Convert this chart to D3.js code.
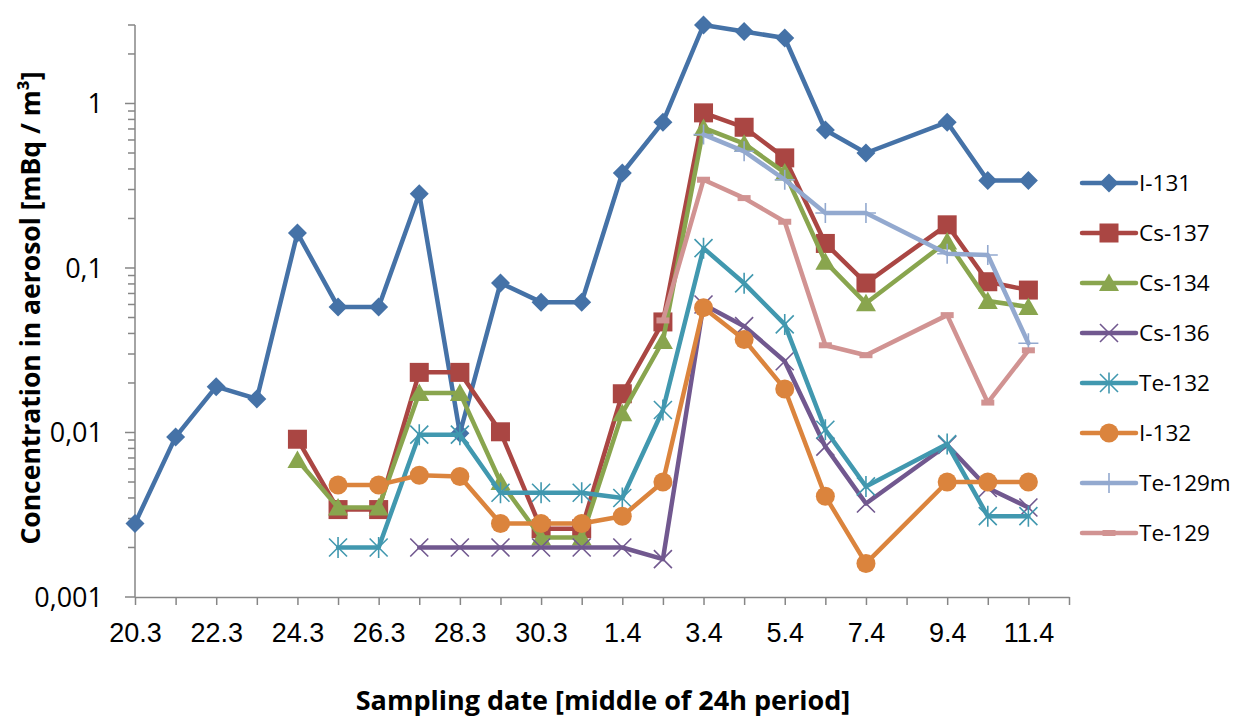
<!DOCTYPE html>
<html>
<meta charset="utf-8">
<head>
<title>Aerosol concentrations</title>
<style>
  body { margin: 0; background: #fff; }
  svg { display: block; font-family: "Open Sans", "Noto Sans", sans-serif; }
  .axis path, .axis line { stroke: #868686; stroke-width: 1.5; }
  .axis text { fill: #000; }
</style>
<script src="https://d3js.org/d3.v7.min.js"></script>
</head>
<body>
<svg></svg>
<script>

var width = 1237, height = 720;

// sampling dates (middle of 24h period)
var dates = ["20.3","21.3","22.3","23.3","24.3","25.3","26.3","27.3","28.3","29.3","30.3","31.3",
             "1.4","2.4","3.4","4.4","5.4","6.4","7.4","8.4","9.4","10.4","11.4","12.4"];

var seriesNames = ["I-131","Cs-137","Cs-134","Cs-136","Te-132","I-132","Te-129m","Te-129"];
var seriesColors = ["#4572A7","#AA4643","#89A54E","#71588F","#4198AF","#DB843D","#93A9CF","#D19392"];
var seriesMarkers = ["diamond","square","triangle","x","star","circle","plus","dash"];

// concentrations in mBq/m3, null = no measurement
var i131   = [0.0028,0.0094,0.019,0.016,0.163,0.058,0.058,0.283,0.0099,0.081,0.062,0.062,
              0.378,0.77,3.0,2.74,2.5,0.69,0.50,null,0.77,0.34,0.34,null];
var cs137  = [null,null,null,null,0.0091,0.0034,0.0034,0.0232,0.0232,0.0101,0.0026,0.0026,
              0.0172,0.047,0.877,0.717,0.467,0.141,0.081,null,0.183,0.0825,0.0734,null];
var cs134  = [null,null,null,null,0.0068,0.0035,0.0035,0.0174,0.0174,0.0050,0.0023,0.0023,
              0.0131,0.036,0.71,0.57,0.38,0.109,0.061,null,0.145,0.063,0.058,null];
var cs136  = [null,null,null,null,null,null,null,0.002,0.002,0.002,0.002,0.002,
              0.002,0.0017,0.060,0.0443,0.0271,0.0082,0.0037,null,0.0084,0.0046,0.0035,null];
var te132  = [null,null,null,null,null,0.002,0.002,0.0097,0.0097,0.0043,0.0043,0.0043,
              0.0040,0.0137,0.132,0.0807,0.0454,0.0104,0.0047,null,0.0085,0.0031,0.0031,null];
var i132   = [null,null,null,null,null,0.0048,0.0048,0.0055,0.0054,0.0028,0.0028,0.0028,
              0.0031,0.0050,0.0574,0.0367,0.0184,0.0041,0.0016,null,0.0050,0.0050,0.0050,null];
var te129m = [null,null,null,null,null,null,null,null,null,null,null,null,
              null,null,0.647,0.512,0.344,0.216,0.216,null,0.122,0.120,0.0349,null];
var te129  = [null,null,null,null,null,null,null,null,null,null,null,null,
              null,0.048,0.344,0.266,0.191,0.0339,0.0295,null,0.0517,0.0152,0.0316,null];

var seriesValues = [i131, cs137, cs134, cs136, te132, i132, te129m, te129];

var yTickLabels = {0.001: "0,001", 0.01: "0,01", 0.1: "0,1", 1: "1"};

var svg = d3.select("svg")
    .attr("width", width)
    .attr("height", height);

var x = d3.scalePoint()
    .domain(dates)
    .range([135, 1069]);

var y = d3.scaleLog()
    .domain([0.001, 3])
    .range([597, 25]);

// y axis: minor ticks + major ticks with labels
var yAxis = svg.append("g").attr("class", "axis");
yAxis.append("line")
    .attr("x1", x.range()[0]).attr("x2", x.range()[0])
    .attr("y1", y.range()[0]).attr("y2", y.range()[1]);
var isMajor = d => Math.abs(Math.log10(d) - Math.round(Math.log10(d))) < 1e-9;
yAxis.selectAll(".ytick")
    .data(y.ticks())
    .enter().append("line")
    .attr("class", "ytick")
    .attr("x1", d => isMajor(d) ? 125 : 128)
    .attr("x2", 135)
    .attr("y1", d => y(d)).attr("y2", d => y(d));
yAxis.selectAll(".ylab")
    .data(y.ticks().filter(isMajor))
    .enter().append("text")
    .attr("class", "ylab")
    .attr("x", 103)
    .attr("y", d => y(d))
    .attr("dy", "0.36em")
    .attr("text-anchor", "end")
    .attr("font-size", 27)
    .text(d => yTickLabels[d]);

// x axis
svg.append("g")
    .attr("class", "axis")
    .attr("transform", "translate(0," + y.range()[0] + ")")
    .call(d3.axisBottom(x)
        .tickSize(8)
        .tickSizeOuter(0)
        .tickFormat((d, i) => i % 2 === 0 && i < 23 ? d : ""))
    .call(g => g.selectAll("text")
        .attr("font-size", 27)
        .attr("y", 26));

// axis titles
svg.append("text")
    .attr("x", 603)
    .attr("y", 710)
    .attr("text-anchor", "middle")
    .attr("font-weight", "bold")
    .attr("font-size", 27)
    .text("Sampling date [middle of 24h period]");

svg.append("text")
    .attr("transform", "translate(40,308) rotate(-90)")
    .attr("text-anchor", "middle")
    .attr("font-weight", "bold")
    .attr("font-size", 26.5)
    .text("Concentration in aerosol [mBq / m³]");

// marker shapes
function drawMarker(sel, type, color) {
    if (type === "diamond") {
        sel.append("path").attr("d", "M0,-9.5L9.5,0L0,9.5L-9.5,0Z").attr("fill", color);
    } else if (type === "square") {
        sel.append("rect").attr("x", -9.5).attr("y", -9.5).attr("width", 19).attr("height", 19).attr("fill", color);
    } else if (type === "triangle") {
        sel.append("path").attr("d", "M0,-9.5L10,8L-10,8Z").attr("fill", color);
    } else if (type === "circle") {
        sel.append("circle").attr("r", 9.5).attr("fill", color);
    } else if (type === "x") {
        sel.append("path").attr("d", "M-9,-9L9,9M-9,9L9,-9")
            .attr("stroke", color).attr("stroke-width", 1.6).attr("fill", "none");
    } else if (type === "star") {
        sel.append("path").attr("d", "M-9,-9L9,9M-9,9L9,-9M0,-10.5L0,10.5")
            .attr("stroke", color).attr("stroke-width", 1.6).attr("fill", "none");
    } else if (type === "plus") {
        sel.append("path").attr("d", "M-10,0L10,0M0,-10L0,10")
            .attr("stroke", color).attr("stroke-width", 1.6).attr("fill", "none");
    } else if (type === "dash") {
        sel.append("rect").attr("x", -6.5).attr("y", -3).attr("width", 13).attr("height", 6).attr("fill", color);
    }
}

var line = d3.line()
    .x(d => x(d.date))
    .y(d => y(d.value));

seriesNames.forEach((name, s) => {
    var pts = dates.map((d, i) => ({date: d, value: seriesValues[s][i]}))
        .filter(p => p.value !== null);
    var g = svg.append("g").attr("class", "series");
    g.append("path")
        .datum(pts)
        .attr("d", line)
        .attr("fill", "none")
        .attr("stroke", seriesColors[s])
        .attr("stroke-width", 4.5)
        .attr("stroke-linejoin", "round")
        .attr("stroke-linecap", "round");
    g.selectAll(".mk")
        .data(pts)
        .enter().append("g")
        .attr("class", "mk")
        .attr("transform", p => "translate(" + x(p.date) + "," + y(p.value) + ")")
        .each(function() { drawMarker(d3.select(this), seriesMarkers[s], seriesColors[s]); });
});

// legend
var legend = svg.append("g")
    .selectAll("g")
    .data(seriesNames)
    .enter().append("g")
    .attr("transform", (d, i) => "translate(1082," + (183 + i * 50) + ")");
legend.append("line")
    .attr("x1", 0).attr("x2", 54)
    .attr("stroke", (d, i) => seriesColors[i])
    .attr("stroke-width", 4.5)
    .attr("stroke-linecap", "round");
legend.append("g")
    .attr("transform", "translate(27,0)")
    .each(function(d, i) { drawMarker(d3.select(this), seriesMarkers[i], seriesColors[i]); });
legend.append("text")
    .attr("x", 57)
    .attr("dy", "0.36em")
    .attr("font-size", 22.5)
    .text(d => d);

</script>
</body>
</html>
